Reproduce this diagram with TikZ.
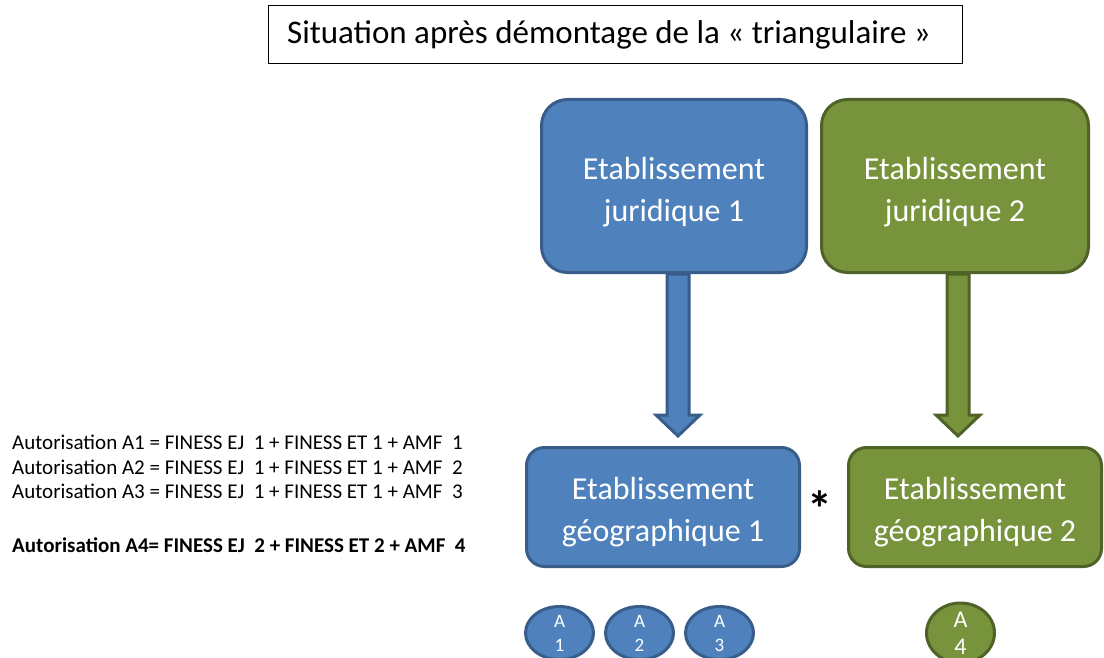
\documentclass[tikz,border=0pt]{standalone}
\usepackage{fontspec}
\setmainfont{Carlito}
\usetikzlibrary{calc,shapes.geometric}
\definecolor{bfill}{HTML}{4F81BD}
\definecolor{bdraw}{HTML}{385D8A}
\definecolor{gfill}{HTML}{77933C}
\definecolor{gdraw}{HTML}{4F6228}
\tikzset{
  bigbox/.style={rectangle, line width=3, inner sep=0, align=center, text=white,
    font=\fontsize{32}{42}\selectfont},
  bluebox/.style={bigbox, fill=bfill, draw=bdraw},
  greenbox/.style={bigbox, fill=gfill, draw=gdraw},
  blueell/.style={ellipse, line width=3, fill=bfill, draw=bdraw, inner sep=0,
    minimum width=68, minimum height=53, align=center, text=white,
    font=\fontsize{19}{24}\selectfont},
  greenell/.style={ellipse, line width=3, fill=gfill, draw=gdraw, inner sep=0,
    minimum width=68, minimum height=53, align=center, text=white,
    font=\fontsize{24}{27}\selectfont},
  bluearrow/.style={line width=3, fill=bfill, draw=bdraw, line join=miter},
  greenarrow/.style={line width=3, fill=gfill, draw=gdraw, line join=miter},
  legend/.style={anchor=base west, inner sep=0, font=\fontsize{21}{25}\selectfont}
}
\newcommand{\upstrut}[1]{\rule{0pt}{#1}}
\begin{document}
\begin{tikzpicture}[x=1pt,y=-1pt]
\useasboundingbox (0,0) rectangle (1104,658);
% title
\node[draw, line width=1, minimum width=694, minimum height=58, inner sep=0,
  font=\fontsize{33}{38}\selectfont] (title) at (615,35)
  {\hspace*{-12pt}Situation après démontage de la «~triangulaire~»};
% boxes
\node[bluebox, minimum width=265, minimum height=173, rounded corners=26] (ej1) at (674,186)
  {\upstrut{34pt}Etablissement\\juridique 1};
\node[greenbox, minimum width=267, minimum height=173, rounded corners=26] (ej2) at (955,186)
  {\upstrut{34pt}Etablissement\\juridique 2};
\node[bluebox, minimum width=273, minimum height=119, rounded corners=18] (eg1) at (663,507)
  {\upstrut{32pt}Etablissement\\géographique 1};
\node[greenbox, minimum width=253, minimum height=119, rounded corners=18] (eg2) at (975,507)
  {\upstrut{32pt}Etablissement\\géographique 2};
% arrows
\coordinate (ax1) at (678,0);
\coordinate (ax2) at (958,0);
\path (ej1.south -| ax1) coordinate (s1) (eg1.north -| ax1) coordinate (e1);
\path (ej2.south -| ax2) coordinate (s2) (eg2.north -| ax2) coordinate (e2);
\draw[bluearrow] ($(s1)+(-11,0)$) -- ($(e1)+(-11,-31)$) -- ($(e1)+(-22,-31)$)
  -- ($(e1)+(0,-10)$) -- ($(e1)+(22,-31)$) -- ($(e1)+(11,-31)$) -- ($(s1)+(11,0)$) -- cycle;
\draw[greenarrow] ($(s2)+(-11,0)$) -- ($(e2)+(-11,-31)$) -- ($(e2)+(-22,-31)$)
  -- ($(e2)+(0,-10)$) -- ($(e2)+(22,-31)$) -- ($(e2)+(11,-31)$) -- ($(s2)+(11,0)$) -- cycle;
% star
\node[anchor=base, inner sep=0, font=\fontsize{50}{50}\selectfont\bfseries] (star) at (820,526) {*};
% ellipses
\node[blueell] (a1) at (559.5,633) {A\\1};
\node[blueell] (a2) at (639.5,633) {A\\2};
\node[blueell] (a3) at (719.5,633) {A\\3};
\node[greenell] (a4) at (960.5,633) {A\\4};
% legend
\node[legend] (l1) at (12,449) {Autorisation A1 = FINESS EJ~ 1 + FINESS ET 1 + AMF~ 1};
\node[legend] (l2) at (12,474) {Autorisation A2 = FINESS EJ~ 1 + FINESS ET 1 + AMF~ 2};
\node[legend] (l3) at (12,498) {Autorisation A3 = FINESS EJ~ 1 + FINESS ET 1 + AMF~ 3};
\node[legend, font=\fontsize{21}{25}\selectfont\bfseries] (l4) at (12,552) {Autorisation A4= FINESS EJ~ 2 + FINESS ET 2 + AMF~ 4};
\end{tikzpicture}
\end{document}
